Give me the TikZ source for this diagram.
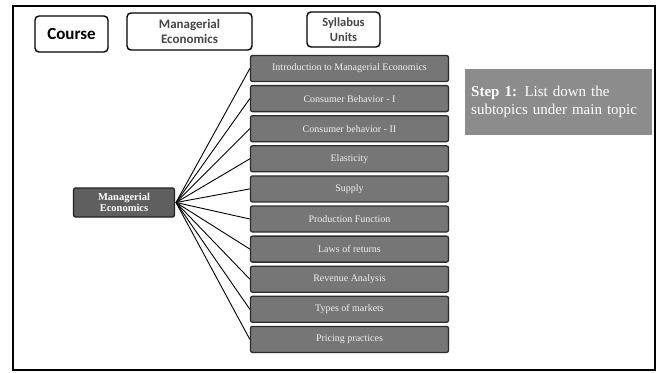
\documentclass[tikz,border=0pt]{standalone}
\usepackage{fontspec}
\setmainfont{Liberation Serif}
\newfontfamily\headfont{Carlito}
\begin{document}
\begin{tikzpicture}[x=1pt,y=-1pt,
  headbox/.style={draw=black,line width=1.4pt,rounded corners=4pt,fill=white,
    align=center,inner sep=0pt,font=\headfont\bfseries},
  unitbox/.style={draw={rgb,255:red,45;green,45;blue,45},line width=1.3pt,rounded corners=2pt,
    fill={rgb,255:red,118;green,118;blue,118},minimum width=198pt,minimum height=26pt,
    inner sep=0pt,text={rgb,255:red,240;green,240;blue,240},font=\fontsize{10}{12}\selectfont},
  rootbox/.style={draw={rgb,255:red,35;green,35;blue,35},line width=1.3pt,rounded corners=2pt,
    fill={rgb,255:red,95;green,95;blue,95},minimum width=101pt,minimum height=29pt,
    inner sep=0pt,align=center,text=white,font=\fontsize{10.5}{9.5}\selectfont\bfseries},
  stepbox/.style={fill={rgb,255:red,140;green,140;blue,140},minimum width=187pt,minimum height=66pt,
    inner xsep=6pt,inner ysep=5pt,align=left,text=white,text width=175pt,anchor=north west,
    font=\fontsize{15}{18}\selectfont},
  link/.style={draw=black,line width=0.9pt}]
\useasboundingbox (0,0) rectangle (661,372);
\fill[white] (0,0) rectangle (661,372);
% outer frame
\draw[line width=1.8pt,black] (13,6) rectangle (655,370);

% heading boxes
\node[headbox,minimum width=73pt,minimum height=36pt,font=\headfont\bfseries\fontsize{17}{17}\selectfont] (course) at (71.5,34) {Course};
\node[headbox,minimum width=125pt,minimum height=37pt,text={rgb,255:red,70;green,70;blue,70},
  font=\headfont\bfseries\fontsize{13}{15}\selectfont] (subject) at (189.5,31.5) {Managerial\\Economics};
\node[headbox,minimum width=73pt,minimum height=35pt,text={rgb,255:red,70;green,70;blue,70},
  font=\headfont\bfseries\fontsize{12.5}{14.5}\selectfont] (units) at (343.5,29.5) {Syllabus\\Units};

% root topic
\node[rootbox] (root) at (124,202.5) {Managerial\\Economics};
\coordinate (hub) at (176,202.5);

% syllabus units
\foreach \i/\t in {0/Introduction to Managerial Economics,
                   1/Consumer Behavior - I,
                   2/Consumer behavior - II,
                   3/Elasticity,
                   4/Supply,
                   5/Production Function,
                   6/Laws of returns,
                   7/Revenue Analysis,
                   8/Types of markets,
                   9/Pricing practices}{
  \node[unitbox] (u\i) at (349.5,{68.5+30.1*\i}) {\t};
  \draw[link] (hub) -- (u\i.west);
}

% step note
\node[stepbox] (step) at (465,69) {\textbf{Step 1:} List down the\\subtopics under main topic};
\end{tikzpicture}
\end{document}
